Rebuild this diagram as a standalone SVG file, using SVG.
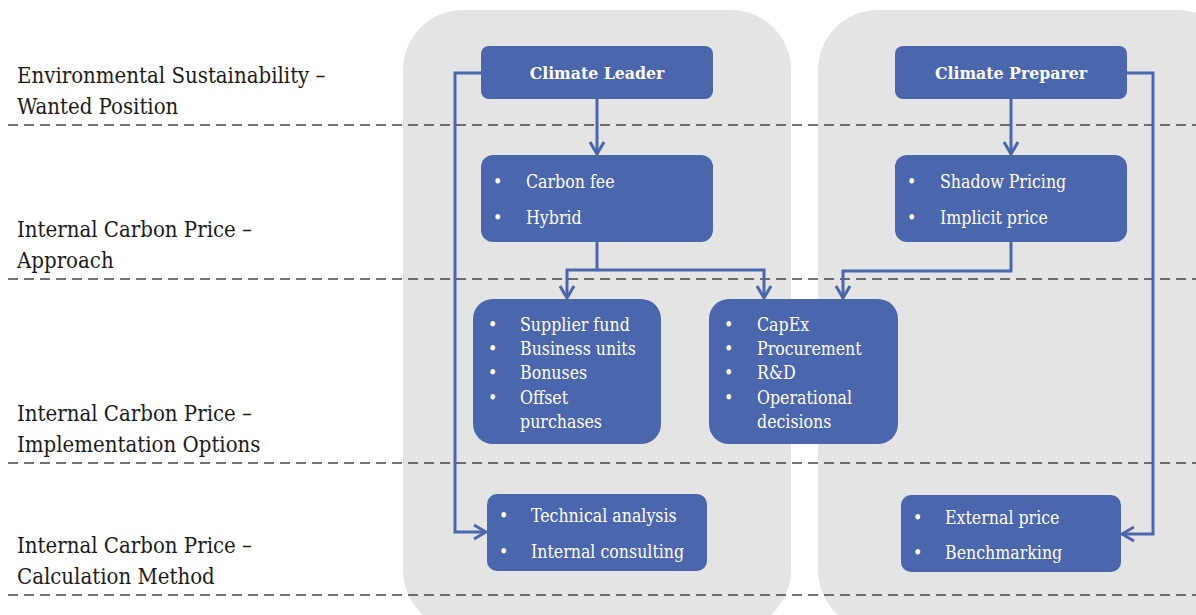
<svg xmlns="http://www.w3.org/2000/svg" width="1196" height="615" viewBox="0 0 1196 615">
<style>
text{font-family:'DejaVu Serif Condensed','DejaVu Serif',serif}
.lbl{font-size:22px;fill:#1c1c1c}
.box{fill:#4A66AC}
.t{font-size:17.6px;fill:#ffffff}
.h{font-size:17.5px;font-weight:bold;fill:#ffffff}
.dash{stroke:#444444;stroke-width:1.6;stroke-dasharray:10 6;fill:none}
.con{stroke:#4A66AC;stroke-width:3;fill:none;marker-end:url(#arr)}
.pnl{fill:#E4E4E4}
</style>
<defs>
<marker id="arr" markerUnits="userSpaceOnUse" markerWidth="16" markerHeight="18" viewBox="0 0 16 18" refX="14" refY="9" orient="auto">
<path d="M2,2 L14,9 L2,16" fill="none" stroke="#4A66AC" stroke-width="3"/>
</marker>
</defs>
<rect width="1196" height="615" fill="#ffffff"/>
<g id="panels">
<rect class="pnl" x="403" y="10" width="388" height="620" rx="60"/>
<rect class="pnl" x="818" y="10" width="420" height="620" rx="60"/>
</g>
<g id="rows">
<line class="dash" x1="8" y1="125" x2="1196" y2="125"/>
<line class="dash" x1="8" y1="279" x2="1196" y2="279"/>
<line class="dash" x1="8" y1="463" x2="1196" y2="463"/>
<line class="dash" x1="8" y1="595" x2="1196" y2="595"/>
</g>
<g id="row-labels">
<text class="lbl" x="17" y="83">Environmental Sustainability –</text>
<text class="lbl" x="17" y="114">Wanted Position</text>
<text class="lbl" x="17" y="237">Internal Carbon Price –</text>
<text class="lbl" x="17" y="268">Approach</text>
<text class="lbl" x="17" y="421">Internal Carbon Price –</text>
<text class="lbl" x="17" y="452">Implementation Options</text>
<text class="lbl" x="17" y="553">Internal Carbon Price –</text>
<text class="lbl" x="17" y="584">Calculation Method</text>
</g>
<g id="connectors">
<path class="con" d="M597,99 V154"/>
<path class="con" d="M1011,99 V154"/>
<path class="con" d="M597,242 V270 H567 V298"/>
<path class="con" d="M597,270 H764 V298"/>
<path class="con" d="M1011,242 V271 H843 V298"/>
<path class="con" d="M481,73 H455 V532 H486"/>
<path class="con" d="M1127,73 H1153 V534 H1122"/>
</g>
<g id="climate-leader">
<rect class="box" x="481" y="46" width="232" height="53" rx="8"/>
<text class="h" x="597" y="79" text-anchor="middle">Climate Leader</text>
</g>
<g id="climate-preparer">
<rect class="box" x="895" y="46" width="232" height="53" rx="8"/>
<text class="h" x="1011" y="79" text-anchor="middle">Climate Preparer</text>
</g>
<g id="leader-approach">
<rect class="box" x="481" y="155" width="232" height="87" rx="12"/>
<text class="t" x="493" y="188">•</text><text class="t" x="526" y="188">Carbon  fee</text>
<text class="t" x="493" y="224">•</text><text class="t" x="526" y="224">Hybrid</text>
</g>
<g id="preparer-approach">
<rect class="box" x="895" y="155" width="232" height="87" rx="12"/>
<text class="t" x="907" y="188">•</text><text class="t" x="940" y="188">Shadow  Pricing</text>
<text class="t" x="907" y="224">•</text><text class="t" x="940" y="224">Implicit price</text>
</g>
<g id="impl-left">
<rect class="box" x="473" y="299" width="188" height="145" rx="20"/>
<text class="t" x="488" y="331">•</text><text class="t" x="520" y="331">Supplier  fund</text>
<text class="t" x="488" y="355">•</text><text class="t" x="520" y="355">Business  units</text>
<text class="t" x="488" y="379">•</text><text class="t" x="520" y="379">Bonuses</text>
<text class="t" x="488" y="404">•</text><text class="t" x="520" y="404">Offset</text>
<text class="t" x="520" y="428">purchases</text>
</g>
<g id="impl-right">
<rect class="box" x="709" y="299" width="189" height="145" rx="20"/>
<text class="t" x="724" y="331">•</text><text class="t" x="757" y="331">CapEx</text>
<text class="t" x="724" y="355">•</text><text class="t" x="757" y="355">Procurement</text>
<text class="t" x="724" y="379">•</text><text class="t" x="757" y="379">R&amp;D</text>
<text class="t" x="724" y="404">•</text><text class="t" x="757" y="404">Operational</text>
<text class="t" x="757" y="428">decisions</text>
</g>
<g id="calc-left">
<rect class="box" x="487" y="494" width="220" height="77" rx="10"/>
<text class="t" x="499" y="522">•</text><text class="t" x="531" y="522">Technical analysis</text>
<text class="t" x="499" y="558">•</text><text class="t" x="531" y="558">Internal consulting</text>
</g>
<g id="calc-right">
<rect class="box" x="901" y="495" width="220" height="77" rx="10"/>
<text class="t" x="913" y="524">•</text><text class="t" x="945" y="524">External price</text>
<text class="t" x="913" y="559">•</text><text class="t" x="945" y="559">Benchmarking</text>
</g>
</svg>
